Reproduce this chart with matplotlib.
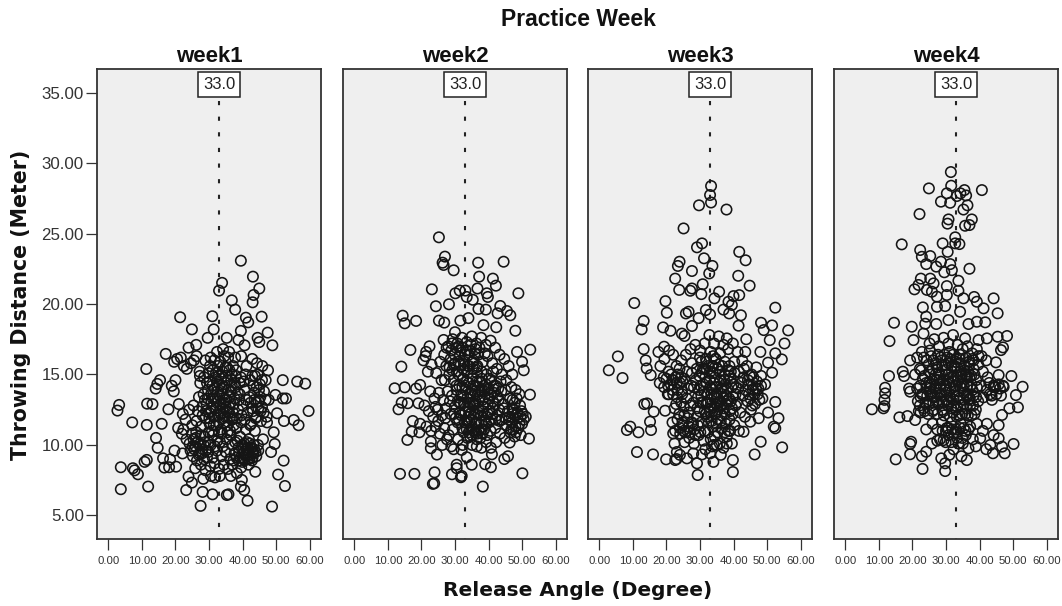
import matplotlib
matplotlib.use('Agg')
import matplotlib.pyplot as plt

plt.rcParams['font.family'] = ['Liberation Sans', 'DejaVu Sans']

# (angle, distance)
week1 = [
    (39.5,23.07),(43.1,21.94),(33.9,21.5),(33.0,20.95),(45.0,21.1),(43.3,20.64),(43.0,20.12),(36.8,20.26),(37.8,19.6),
    (21.4,19.06),(31.0,19.13),(45.7,19.1),(41.0,19.03),(41.7,18.7),(24.9,18.2),(31.4,18.2),(39.5,18.09),(47.5,17.97),
    (29.6,17.6),(44.5,17.6),(45.0,17.3),(48.9,17.07),(23.9,16.9),(26.2,17.1),(35.3,17.6),(38.8,17.45),(40.6,17.07),
    (17.1,16.46),(11.3,15.39),(52.0,14.6),(56.3,14.5),(58.7,14.35),(15.4,14.6),(14.6,14.33),(14.1,14.0),(3.2,12.84),
    (2.7,12.44),(11.55,12.93),(13.15,12.9),(17.9,12.53),(59.7,12.41),(7.1,11.6),(11.45,11.42),(15.9,11.5),(52.35,11.7),
    (55.3,11.77),(56.7,11.4),(50.3,12.25),(52.95,13.3),(52.0,13.3),(49.8,13.55),(49.3,10.9),(49.6,10.07),(14.2,10.5),
    (14.7,9.8),(19.7,9.6),(48.5,9.5),(52.25,8.89),(16.3,9.05),(18.4,8.98),(11.45,8.94),(10.8,8.8),(3.7,8.42),(7.3,8.35),
    (8.8,7.92),(7.8,8.2),(16.7,8.4),(20.2,8.46),(18.1,8.42),(50.6,7.9),(52.65,7.09),(3.7,6.86),(11.85,7.05),(23.2,6.8),
    (28.1,6.67),(31.05,6.5),(35.3,6.45),(35.8,6.5),(41.5,6.05),(27.5,5.68),(48.8,5.63),(39.5,7.05),(40.5,6.8),(39.8,7.52),
    (23.9,7.75),(24.9,7.33),(25.9,8.35),(43.8,8.1),(38.3,8.0),(19.6,15.9),(20.5,16.1),(21.6,16.2),(22.5,15.6),(23.4,15.4),
    (24.6,15.8),(25.5,16.0),(26.3,16.3),(27.2,15.2),(18.9,14.2),(20.0,14.6),(19.5,13.8),(21.0,12.9),(22.2,12.2),(23.0,11.8),
    (24.1,12.5),(20.8,11.2),(21.9,10.8),(22.4,11.1),(23.3,10.4),(24.5,9.6),(22.1,9.4),(25.2,9.2),(26.4,8.9),(27.6,8.6),
    (29.0,8.2),(30.6,7.8),(31.8,7.7),(33.2,7.8),(28.3,7.6),(36.5,7.8),(41.8,8.6),(43.2,9.4),(44.6,10.0),(46.1,10.4),(47.2,12.0),
    (47.8,13.2),(46.9,14.6),(47.6,15.3),(45.9,15.6),(44.3,15.8),(42.9,16.1),(41.2,15.6),(39.6,16.3),(37.8,16.2),(36.0,16.6),
    (34.2,16.8),(32.4,16.6),(30.5,16.2),(28.9,16.0),(27.4,14.4),(28.5,14.8),(29.8,15.1),(31.1,15.3),(32.6,15.6),(34.0,15.2),
    (35.4,15.5),(36.8,15.0),(38.1,15.3),(39.5,14.8),(40.9,15.0),(42.3,14.6),(43.7,14.9),(45.2,14.3),(46.4,13.8),(27.0,13.4),
    (28.4,13.6),(29.7,13.9),(31.0,14.2),(32.4,14.5),(33.8,14.0),(35.1,14.4),(36.5,13.8),(37.9,14.1),(39.2,13.6),(40.6,13.9),
    (42.0,13.4),(43.4,13.7),(44.8,13.1),(45.8,12.7),(25.4,12.8),(26.7,12.4),(28.0,12.7),(29.3,12.9),(30.7,13.1),(32.0,13.3),
    (33.4,12.9),(34.7,13.2),(36.0,12.7),(37.4,12.9),(38.7,12.5),(40.1,12.8),(41.5,12.3),(42.8,12.6),(44.2,12.0),(45.5,11.7),
    (25.0,11.4),(26.3,11.7),(27.6,11.3),(28.9,11.9),(30.2,11.5),(31.5,12.0),(32.9,11.6),(34.2,11.9),(35.6,11.4),(36.9,11.8),
    (38.2,11.2),(39.6,11.6),(41.0,11.1),(42.3,11.4),(43.7,11.0),(26.0,10.5),(27.3,10.1),(28.6,10.6),(29.9,10.2),(31.2,10.7),
    (32.5,10.3),(33.8,10.8),(35.2,10.4),(36.5,10.7),(37.8,10.2),(39.2,10.6),(40.5,10.1),(41.9,10.4),(43.3,10.0),(27.2,9.4),
    (28.5,9.0),(29.8,9.5),(31.1,9.1),(32.4,9.6),(33.7,9.2),(35.0,9.5),(36.3,9.0),(37.6,9.4),(38.9,8.9),(40.2,9.4),(41.6,9.0),
    (42.9,9.5),(30.4,8.5),(31.7,8.7),(33.0,8.3),(34.4,8.6),(35.7,8.3),(37.0,8.6),(39.6,8.4),(33.2,12.4),(36.1,13.4),(30.0,12.3),
]
week1_core = [
    (27.3,14.9),(28.1,12.1),(28.8,13.2),(29.4,14.4),(30.1,11.9),(30.6,13.6),(31.3,12.7),(31.9,14.8),(32.2,11.4),(32.8,13.1),
    (33.1,14.3),(33.5,12.2),(34.1,13.6),(34.5,11.6),(34.9,14.9),(35.3,12.4),(35.8,13.9),(36.2,11.9),(36.7,14.6),(37.1,12.3),
    (37.6,13.3),(38.0,14.9),(30.3,15.6),(31.6,16.0),(33.4,15.9),(35.7,16.2),(37.2,15.6),(34.6,16.3),(36.1,15.3),(32.9,14.9),
    (24.2,10.1),(24.9,10.8),(25.6,9.7),(26.2,10.9),(26.9,9.3),(27.5,10.7),(28.1,9.7),(28.8,10.2),(29.4,9.1),(29.9,10.9),(25.1,9.9),
    (26.6,10.2),(38.2,9.1),(38.8,9.8),(39.4,9.1),(40.0,10.0),(40.6,8.9),(41.1,9.7),(41.7,9.3),(42.2,10.1),(42.8,8.9),(43.4,9.7),
    (44.1,9.2),(44.7,9.6),(38.5,10.3),(39.9,8.8),(41.3,10.2),(42.5,11.5),(43.1,12.4),(43.6,13.2),(44.2,14.1),(44.7,12.6),(45.3,13.4),
    (45.8,14.6),(46.3,12.3),(46.9,13.2),(47.3,11.6),(42.4,13.0),(42.9,14.9),(43.9,11.9),(44.5,15.0),(41.1,13.2),(40.3,14.5),(39.7,12.1),
    (38.9,13.2),(39.1,14.4),(40.7,11.8),(37.4,11.4),(35.5,10.9),(33.3,10.2),(31.8,9.9),(30.5,10.0),(34.1,9.9),(36.9,10.0),(37.3,8.9),
]
week1_dense = [
    (32.6,12.1),(33.1,13.5),(33.6,14.7),(34.0,12.6),(34.4,14.1),(34.8,12.0),(35.2,13.2),(35.6,14.6),(36.0,12.3),(36.4,13.0),
    (36.8,14.2),(37.2,11.9),(29.1,12.4),(29.6,13.3),(30.1,14.5),(30.6,12.4),(31.1,13.3),(31.6,14.0),(32.1,12.6),(32.5,13.8),
    (38.3,11.9),(38.6,13.7),(27.9,9.4),(28.4,10.0),(29.0,9.6),(26.0,9.9),(25.4,10.4),(39.0,9.5),(39.7,9.8),(40.4,9.0),(41.0,9.3),
    (41.5,9.8),(42.1,9.0),(42.6,9.8),(43.0,9.1),(43.9,9.5),(44.9,13.9),(45.4,12.4),(44.1,13.0),(43.3,14.2),(34.9,15.5),(31.4,11.4),
    (33.0,10.9),(36.3,11.0),(37.7,14.4),(32.1,15.1),(33.6,11.1),(30.9,11.0),(35.0,12.7),(34.3,13.0),
]

week2 = [
    (25.2,24.73),(27.0,23.36),(26.3,22.93),(26.6,22.77),(29.6,22.39),(36.9,22.93),(44.5,23.0),(37.2,21.94),(41.3,21.8),
    (42.2,21.3),(36.7,21.1),(23.1,21.04),(48.9,20.76),(30.1,20.76),(31.4,20.95),(33.1,20.95),(39.5,20.76),(39.8,20.5),
    (33.5,20.5),(35.3,20.3),(28.2,19.98),(24.3,19.84),(37.0,19.65),(39.2,19.6),(43.5,19.86),(45.5,19.5),(46.5,19.2),
    (42.7,19.34),(14.4,19.17),(15.0,18.63),(18.4,18.8),(25.2,18.82),(26.8,18.68),(31.6,18.82),(34.0,19.0),(48.0,18.1),
    (42.3,18.35),(38.5,18.5),(52.45,16.76),(16.7,16.74),(22.4,17.0),(21.4,16.6),(20.6,16.0),(26.6,17.45),(30.0,18.0),
    (14.0,15.56),(48.5,16.6),(50.0,15.9),(50.5,15.3),(12.0,14.02),(15.0,14.09),(19.6,14.26),(18.4,14.0),(52.35,13.57),
    (13.15,12.53),(14.1,13.0),(15.9,12.96),(19.1,12.96),(17.4,11.7),(19.6,11.5),(17.1,10.95),(19.4,10.9),(15.8,10.36),
    (52.05,10.45),(46.3,10.17),(22.8,10.24),(22.8,9.77),(24.6,9.32),(41.0,9.34),(45.8,9.2),(44.7,9.0),(13.6,7.95),
    (17.9,7.95),(23.9,8.06),(23.8,7.28),(23.4,7.24),(29.1,7.92),(30.5,8.35),(30.5,8.6),(31.75,7.71),(32.0,7.8),(38.3,7.05),
    (50.1,7.99),(39.0,8.63),(40.7,8.42),(35.0,8.6),(33.5,9.13),(29.6,9.7),(32.0,9.65),(36.5,9.9),(42.3,10.2),(21.2,16.3),
    (21.9,15.2),(23.0,15.7),(24.4,15.1),(25.6,15.9),(26.8,16.4),(28.0,17.0),(29.3,17.5),(30.7,17.2),(32.1,17.6),(33.5,17.3),
    (35.0,17.7),(36.4,17.2),(37.8,17.6),(39.2,17.1),(40.6,17.4),(42.0,16.9),(43.3,16.4),(44.7,16.1),(46.0,15.6),(47.1,15.0),
    (27.4,15.6),(28.7,16.1),(30.0,15.8),(31.3,16.3),(32.7,15.9),(34.1,16.4),(35.5,16.0),(36.9,16.4),(38.3,15.9),(39.7,16.3),
    (41.1,15.8),(42.5,15.4),(43.9,15.0),(45.3,14.6),(46.8,14.1),(48.1,13.9),(49.2,13.6),(27.0,14.6),(28.3,15.0),(29.6,14.6),
    (31.0,15.0),(32.4,14.7),(33.8,15.1),(35.2,14.7),(36.6,15.1),(38.0,14.7),(39.4,15.0),(40.8,14.6),(42.2,14.2),(43.6,14.5),
    (45.0,13.9),(46.4,13.3),(47.8,13.0),(49.4,12.8),(50.2,12.2),(22.6,13.8),(23.9,13.3),(25.2,13.7),(26.5,13.2),(27.8,13.8),
    (29.1,13.5),(30.5,13.9),(31.8,13.5),(33.2,13.9),(34.6,13.4),(36.0,13.8),(37.4,13.4),(38.8,13.8),(40.2,13.3),(41.6,13.7),
    (43.0,13.2),(44.4,12.9),(45.8,12.4),(47.2,12.2),(48.6,11.9),(50.0,11.5),(51.1,12.0),(20.9,12.8),(22.2,12.4),(23.5,12.0),
    (24.8,12.5),(26.1,12.1),(27.4,12.6),(28.7,12.2),(30.0,12.7),(31.4,12.3),(32.8,12.8),(34.2,12.4),(35.6,12.8),(37.0,12.3),
    (38.4,12.7),(39.8,12.2),(41.2,12.6),(42.6,12.1),(44.0,11.8),(45.4,11.4),(46.8,11.1),(48.2,10.9),(49.6,10.7),(21.5,11.3),
    (22.9,11.0),(24.2,11.3),(25.5,10.8),(26.8,11.2),(28.1,10.7),(29.4,11.1),(30.8,11.6),(32.2,11.2),(33.6,11.7),(35.0,11.2),
    (36.4,11.6),(37.8,11.1),(39.2,11.5),(40.6,11.0),(42.0,11.2),(43.4,10.8),(44.8,10.5),(26.2,10.0),(27.6,10.4),(28.9,9.9),
    (30.9,10.4),(32.3,10.0),(33.7,10.5),(35.1,10.0),(36.5,10.4),(37.9,9.8),(39.3,10.2),(40.7,9.8),(33.0,14.2),(35.8,12.2),
    (37.1,13.1),(34.4,13.0),(31.6,13.0),(38.6,14.2),(36.2,14.2),(33.9,12.0),
]
week2_core = [
    (30.2,11.9),(30.8,13.1),(31.3,14.2),(31.9,12.1),(32.4,13.5),(32.9,11.6),(33.5,14.5),(33.9,12.7),(34.5,13.7),(34.9,11.8),
    (35.4,14.2),(35.9,12.9),(36.4,11.5),(36.8,13.6),(37.3,14.5),(37.8,12.1),(38.2,13.2),(38.7,11.7),(39.2,14.3),(39.7,12.9),
    (40.1,11.6),(40.6,13.5),(41.1,12.2),(41.6,14.2),(42.1,11.8),(42.6,13.4),(27.5,16.9),(28.4,15.5),(29.1,17.2),(29.9,16.4),
    (30.5,15.2),(31.1,17.0),(31.7,15.7),(32.3,16.9),(32.9,15.3),(33.5,16.7),(34.2,15.6),(34.8,17.1),(35.4,15.4),(36.1,16.8),
    (36.7,15.6),(37.3,16.9),(37.9,15.2),(46.2,12.0),(46.9,11.6),(47.5,12.5),(48.0,11.3),(48.6,12.3),(49.2,11.5),(49.8,12.4),
    (50.5,11.8),(47.2,13.2),(48.4,13.3),(46.5,10.9),(47.8,10.6),(32.6,10.9),(33.5,11.1),(34.5,10.6),(35.5,11.0),(36.6,10.8),
    (37.6,10.5),(38.7,11.1),(39.6,10.7),(43.8,13.8),(44.6,12.6),(45.1,11.9),(43.2,12.5),(41.4,15.2),(40.2,14.7),(26.0,14.6),
    (28.5,13.1),(29.7,12.2),(27.1,11.9),(25.0,11.7),(24.2,12.7),(29.2,15.3),(30.4,14.2),(38.9,16.5),(35.3,13.0),(37.9,13.9),
]
week2_dense = [
    (33.1,12.3),(33.6,13.3),(34.1,14.4),(34.6,12.2),(35.1,13.9),(35.5,12.0),(36.0,13.1),(36.5,14.5),(36.9,12.6),(37.4,13.9),
    (37.9,11.6),(38.3,12.4),(38.8,13.4),(39.3,12.0),(39.8,13.9),(40.3,12.4),(40.8,11.8),(41.3,13.1),(31.2,11.8),(31.7,12.9),
    (32.2,14.1),(32.7,13.0),(28.9,16.7),(29.6,15.7),(30.3,16.9),(31.0,15.9),(31.6,16.7),(32.4,15.4),(33.1,16.4),(33.8,15.6),
    (34.5,16.7),(35.2,15.9),(35.9,16.5),(36.5,15.5),(47.1,12.6),(48.0,12.1),(48.9,11.2),(49.5,12.0),(47.4,11.1),(46.1,11.8),
    (34.1,10.9),(35.1,10.7),(36.0,10.9),(37.1,11.0),(38.1,10.8),(43.3,11.7),(42.9,14.0),(34.3,11.6),(40.0,14.0),(41.9,12.9),
]

week3 = [
    (33.3,28.37),(33.0,27.73),(33.3,27.2),(29.7,27.0),(37.9,26.7),(25.1,25.36),(30.6,24.3),(29.1,24.02),(41.7,23.7),
    (43.6,23.1),(31.2,23.24),(23.9,23.0),(23.4,22.7),(33.7,22.7),(27.6,22.34),(32.75,22.17),(22.6,21.8),(41.4,22.0),
    (44.8,21.3),(30.8,21.4),(23.8,21.0),(27.6,21.1),(27.1,20.94),(30.4,20.7),(35.7,20.87),(34.3,20.4),(41.7,20.63),
    (40.0,20.56),(38.5,20.16),(39.5,19.93),(37.0,19.6),(38.7,19.33),(19.7,20.2),(10.4,20.07),(20.1,19.38),(52.45,19.74),
    (25.8,19.33),(26.6,19.45),(31.75,19.57),(33.0,19.26),(29.6,19.0),(42.2,19.2),(13.2,18.8),(12.6,18.2),(19.0,18.34),
    (21.2,18.1),(27.6,18.44),(41.5,18.46),(48.2,18.67),(51.5,18.48),(49.0,18.15),(56.3,18.13),(55.2,17.2),(50.8,17.44),
    (54.4,16.07),(52.45,16.5),(48.0,16.6),(50.3,15.84),(51.5,15.13),(43.5,16.6),(43.8,17.5),(38.0,17.56),(25.4,17.73),
    (24.6,17.9),(13.2,16.8),(5.5,16.28),(2.8,15.3),(6.9,14.75),(13.8,16.0),(14.1,15.43),(15.3,14.96),(17.6,16.6),(19.3,16.97),
    (52.45,13.05),(50.3,12.3),(53.4,11.9),(52.0,11.3),(52.45,11.18),(14.2,12.95),(13.4,12.9),(16.2,12.36),(19.6,12.43),
    (15.1,11.65),(15.4,11.06),(9.2,11.3),(8.2,11.06),(11.65,10.9),(48.1,10.23),(46.3,9.33),(54.5,9.83),(11.2,9.5),(16.0,9.33),
    (19.9,8.98),(22.6,8.93),(26.1,9.05),(29.1,8.7),(29.3,7.87),(34.0,8.8),(39.8,8.93),(39.8,8.08),(36.2,9.3),(30.6,9.33),
    (22.0,10.82),(22.4,10.1),(23.1,9.5),(39.5,10.1),(43.0,10.94),(47.5,11.9),(45.0,11.65),(45.2,12.5),(23.0,9.0),(24.0,9.3),
    (18.2,15.6),(19.4,16.1),(20.8,16.7),(22.0,16.4),(23.0,15.6),(24.4,16.0),(25.8,16.4),(27.2,16.8),(28.6,17.1),(30.0,16.7),
    (31.4,17.2),(32.8,17.8),(34.2,17.2),(35.6,17.7),(37.0,17.1),(38.4,16.8),(39.8,17.2),(41.2,16.6),(42.6,16.0),(44.0,15.6),
    (45.4,15.0),(46.8,15.5),(48.2,14.9),(49.4,14.3),(18.0,14.4),(19.2,14.8),(20.6,15.2),(22.0,14.6),(23.4,15.0),(24.8,14.5),
    (26.2,15.2),(27.6,15.8),(29.0,15.4),(30.4,15.9),(31.8,16.1),(33.2,16.6),(34.6,16.1),(36.0,16.5),(37.4,15.9),(38.8,15.6),
    (40.2,15.9),(41.6,15.2),(43.0,14.8),(44.4,14.3),(45.8,13.9),(47.2,13.6),(48.6,13.3),(20.4,13.6),(21.8,13.9),(23.2,13.4),
    (24.6,13.8),(26.0,13.3),(27.4,14.2),(28.8,14.6),(30.2,14.2),(31.6,14.8),(33.0,15.2),(34.4,14.8),(35.8,15.2),(37.2,14.6),
    (38.6,14.9),(40.0,14.3),(41.4,14.0),(42.8,13.5),(44.2,13.1),(45.6,12.8),(22.4,12.6),(23.8,12.2),(25.2,12.7),(26.6,12.3),
    (28.0,13.0),(29.4,13.4),(30.8,13.0),(32.2,13.6),(33.6,14.0),(35.0,13.6),(36.4,14.0),(37.8,13.5),(39.2,13.1),(40.6,12.8),
    (42.0,12.3),(43.4,12.0),(24.8,11.4),(26.2,11.0),(27.6,11.6),(29.0,12.0),(30.4,11.6),(31.8,12.2),(33.2,12.6),(34.6,12.2),
    (36.0,12.7),(37.4,12.2),(38.8,11.8),(40.2,11.4),(41.6,11.0),(25.4,10.2),(26.8,10.5),(28.2,10.1),(29.6,10.7),(31.0,10.3),
    (32.4,10.9),(33.8,11.3),(35.2,10.9),(36.6,11.2),(38.0,10.6),(39.0,11.0),(28.0,9.4),(31.6,9.7),(33.0,9.4),(35.0,10.0),(37.0,9.8),
    (33.2,13.2),(32.0,14.4),(34.8,12.9),(33.6,15.6),(31.2,13.8),(36.4,12.9),(35.4,11.8),(32.6,11.6),
]
week3_core = [
    (29.2,12.6),(29.8,14.9),(30.4,13.5),(30.9,15.4),(31.4,12.4),(31.9,15.9),(32.4,13.0),(32.9,14.6),(33.4,12.1),(33.8,15.1),
    (34.3,13.4),(34.7,16.1),(35.2,12.4),(35.7,14.4),(36.1,13.1),(36.6,15.6),(37.0,12.6),(37.5,14.3),(38.0,13.1),(38.4,15.3),
    (38.9,12.4),(39.4,14.1),(39.9,13.4),(40.3,15.1),(30.0,16.2),(32.1,12.0),(33.9,16.3),(35.6,15.7),(36.9,13.8),(34.1,14.4),
    (19.3,14.1),(20.0,14.7),(20.7,13.6),(21.3,14.3),(22.0,13.6),(22.7,14.8),(23.3,13.9),(24.0,14.4),(24.7,13.6),(25.3,14.7),
    (21.4,15.0),(23.9,15.4),(43.6,13.9),(44.3,14.6),(45.0,13.3),(45.7,14.2),(46.3,13.6),(47.0,14.5),(47.7,13.2),(48.2,14.2),
    (44.8,14.9),(46.4,12.9),(21.8,11.6),(22.6,11.0),(23.3,11.8),(24.1,10.8),(24.8,11.6),(25.6,10.9),(26.3,11.9),(27.1,10.9),
    (27.9,11.5),(28.6,10.7),(29.3,11.4),(30.1,10.9),(34.4,10.6),(35.9,10.1),(37.4,10.9),(33.2,10.4),(39.8,12.2),(41.0,13.0),
    (42.3,14.4),(40.7,14.1),(27.1,12.8),(28.2,14.1),(26.4,14.0),(27.6,15.1),(22.9,12.9),(25.3,12.1),(24.4,13.0),(43.1,15.4),
]
week3_dense = [
    (32.9,12.4),(33.4,13.6),(33.9,15.6),(34.3,12.7),(34.8,14.1),(35.2,15.4),(35.6,13.0),(36.1,14.6),(36.5,12.1),(37.0,13.4),
    (37.4,15.0),(37.8,12.9),(38.2,14.0),(38.7,13.3),(39.1,14.7),(39.6,12.6),(31.0,14.3),(31.5,15.4),(32.0,13.0),(32.5,15.6),
    (30.2,13.0),(29.7,13.9),(33.1,14.1),(35.3,13.3),(36.8,14.1),(33.5,11.7),(34.9,11.5),(36.2,11.7),(37.7,11.5),(38.5,11.0),
    (34.1,10.0),(33.6,9.9),(20.5,14.2),(21.8,14.6),(23.1,14.4),(24.4,14.8),(44.6,13.6),(45.9,14.8),(46.7,14.0),(47.4,14.0),
    (24.0,11.2),(25.1,11.0),(26.7,11.3),(28.3,11.1),(29.9,12.4),(38.0,10.1),(31.4,11.0),(30.6,15.1),(39.2,15.2),(40.6,13.6),
]

week4 = [
    (31.45,29.36),(24.9,28.2),(40.7,28.08),(31.55,28.39),(30.25,27.85),(35.5,28.08),(36.0,27.7),(33.25,27.66),(34.3,27.85),
    (28.5,27.26),(31.25,27.18),(36.4,27.0),(35.2,26.7),(22.1,26.38),(37.7,26.0),(30.75,26.0),(30.45,25.7),(35.7,25.55),
    (37.0,25.6),(16.8,24.23),(32.75,24.73),(32.75,24.3),(34.0,24.25),(29.0,24.3),(30.5,23.7),(22.3,23.83),(22.8,23.35),
    (25.3,23.4),(24.1,22.83),(28.5,23.0),(27.1,22.65),(31.25,22.83),(31.75,22.4),(29.5,22.25),(37.0,22.5),(22.5,21.8),
    (25.3,21.8),(21.8,21.35),(20.6,21.04),(33.7,21.65),(26.3,21.46),(24.3,21.0),(25.8,20.87),(30.25,21.27),(33.7,20.94),
    (27.3,20.52),(30.25,20.64),(35.2,20.4),(38.4,20.5),(44.2,20.4),(23.1,19.76),(27.3,19.8),(29.75,19.85),(39.2,20.16),
    (41.2,19.69),(45.4,19.34),(34.2,19.45),(24.1,19.1),(14.5,18.67),(13.15,17.37),(19.8,18.39),(23.8,18.6),(27.1,18.58),
    (30.75,18.86),(36.7,18.58),(39.2,18.74),(41.7,18.7),(48.2,17.73),(45.4,17.68),(47.0,16.92),(46.4,16.73),(44.9,15.86),
    (20.3,17.44),(23.3,17.9),(35.7,17.56),(39.7,17.44),(42.2,17.56),(17.1,15.2),(17.5,14.89),(13.0,14.89),(11.85,14.06),
    (19.3,16.0),(45.7,14.96),(49.5,14.89),(52.85,14.13),(50.85,13.54),(11.85,13.66),(11.65,13.2),(11.65,12.76),(11.35,12.6),
    (7.9,12.53),(51.45,12.67),(48.9,12.6),(46.7,12.13),(41.2,13.38),(43.7,13.2),(44.2,14.1),(47.2,14.13),(19.3,13.78),(19.0,14.0),
    (16.1,11.96),(18.5,12.05),(20.8,11.77),(24.1,11.1),(45.7,11.4),(42.2,11.5),(39.2,11.5),(44.2,10.7),(19.6,10.23),(19.3,10.07),
    (19.3,9.34),(22.8,9.2),(24.1,9.52),(15.0,8.98),(23.0,8.3),(29.75,8.15),(29.75,8.7),(28.6,9.05),(36.2,8.93),(50.15,10.07),
    (47.5,9.41),(44.0,9.41),(45.7,10.47),(46.7,9.88),(32.25,9.69),(36.7,9.76),(25.8,10.1),(40.2,10.47),(29.3,10.35),(33.7,10.1),
    (25.1,17.2),(26.5,17.5),(27.9,17.0),(29.3,17.6),(30.7,17.2),(32.1,17.8),(33.5,17.1),(35.0,16.8),(36.4,17.0),(37.8,16.5),(39.2,16.8),
    (40.6,16.3),(42.0,16.0),(21.4,16.2),(22.8,16.6),(24.2,16.0),(25.6,16.3),(27.0,15.8),(28.4,16.2),(29.8,15.7),(31.2,16.1),(32.6,15.6),
    (34.0,16.1),(35.4,15.6),(36.8,15.9),(38.2,15.4),(39.6,15.7),(41.0,15.2),(42.4,14.8),(20.8,15.0),(22.2,15.4),(23.6,14.9),(25.0,15.2),
    (26.4,14.7),(27.8,15.1),(29.2,14.6),(30.6,15.0),(32.0,14.5),(33.4,14.9),(34.8,14.4),(36.2,14.8),(37.6,14.3),(39.0,14.6),(40.4,14.2),
    (21.4,14.0),(22.8,13.6),(24.2,14.1),(25.6,13.6),(27.0,14.0),(28.4,13.5),(29.8,13.9),(31.2,13.4),(32.6,13.8),(34.0,13.3),(35.4,13.7),
    (36.8,13.2),(38.2,13.5),(39.6,13.1),(22.2,12.8),(23.6,12.4),(25.0,12.9),(26.4,12.5),(27.8,12.9),(29.2,12.4),(30.6,12.8),(32.0,12.3),
    (33.4,12.7),(34.8,12.2),(36.2,12.6),(37.6,12.1),(38.9,12.5),(26.0,11.5),(27.4,11.1),(28.8,11.6),(30.2,11.2),(31.6,11.6),(33.0,11.1),
    (34.4,11.5),(35.8,11.0),(37.2,11.3),(41.0,11.0),(43.2,10.0),(27.4,10.3),(30.8,10.7),(34.8,10.5),(38.0,10.4),(38.9,9.9),(42.0,9.7),
    (31.0,9.3),(34.6,9.2),(28.2,15.0),(31.8,15.2),(33.0,14.2),(30.0,13.2),(35.9,15.0),(26.2,13.0),(33.2,12.0),(37.0,14.8),
]
week4_core = [
    (22.6,15.3),(23.4,16.2),(24.1,14.4),(24.8,15.7),(25.6,14.3),(26.2,16.0),(26.9,15.0),(27.6,16.4),(28.3,14.3),(28.9,15.6),
    (29.6,16.4),(30.1,14.2),(30.8,15.8),(31.4,14.8),(32.1,16.4),(32.7,14.2),(33.4,15.5),(34.1,16.4),(34.7,15.0),(35.3,14.2),
    (36.0,16.2),(36.6,15.2),(37.2,14.1),(37.9,16.1),(38.5,15.0),(39.2,14.1),(39.7,16.3),(27.3,14.6),(30.0,15.0),(33.0,16.1),
    (21.6,13.1),(22.4,12.3),(23.1,13.6),(23.9,13.0),(24.6,12.2),(25.3,13.8),(26.0,12.4),(26.7,13.4),(27.4,12.2),(28.1,13.7),
    (28.8,13.1),(29.4,12.1),(30.2,13.7),(30.9,13.1),(31.6,12.6),(32.3,13.2),(33.0,12.5),(33.7,13.8),(34.4,12.8),(35.1,13.2),
    (35.8,12.2),(36.5,13.5),(37.2,12.8),(37.9,13.9),(38.5,12.2),(39.0,13.4),(42.2,13.9),(42.9,14.4),(43.6,13.5),(44.3,14.2),
    (45.0,13.6),(45.7,14.3),(46.4,13.5),(47.0,14.2),(28.2,10.4),(29.0,11.0),(29.9,10.2),(30.7,11.2),(31.6,10.2),(32.4,10.8),
    (33.3,10.5),(34.2,11.2),(35.0,10.1),(35.9,10.7),(36.7,11.1),(23.1,14.7),(22.3,14.2),(25.2,16.7),(31.0,16.6),(34.4,15.8),
]
week4_dense = [
    (26.1,15.4),(26.8,14.2),(27.4,15.5),(28.0,14.6),(28.7,16.0),(29.3,14.2),(29.9,15.3),(30.4,16.2),(31.0,14.4),(31.7,15.6),
    (32.3,14.9),(32.9,15.9),(33.5,14.6),(34.2,15.2),(34.9,14.0),(35.6,15.3),(36.3,14.2),(36.9,15.7),(37.5,14.9),(38.2,16.0),
    (25.2,14.0),(26.2,13.4),(27.2,13.1),(28.3,14.0),(29.3,13.0),(30.3,13.2),(31.3,14.0),(32.3,12.8),(33.3,13.4),(34.3,14.1),
    (35.3,12.9),(36.2,13.6),(37.1,13.3),(38.1,12.8),(23.4,12.6),(24.4,13.5),(22.4,13.4),(21.9,12.4),(24.9,14.4),(28.9,12.5),
    (31.2,12.0),(34.0,12.1),(36.5,12.1),(43.1,13.6),(44.7,14.1),(46.1,14.0),(30.0,11.0),(33.2,10.9),(35.3,11.2),(31.9,11.1),
]

panels = [week1 + week1_core + week1_dense, week2 + week2_core + week2_dense,
          week3 + week3_core + week3_dense, week4 + week4_core + week4_dense]
week_names = ['week1', 'week2', 'week3', 'week4']
median_angle = 33.0
x_ticks = [0, 10, 20, 30, 40, 50, 60]
y_ticks = [5, 10, 15, 20, 25, 30, 35]
left_edges = [97, 343, 588, 834]

W, H = 1062, 606
fig = plt.figure(figsize=(W / 100, H / 100), dpi=100)

for i, points in enumerate(panels):
    ax = fig.add_axes([left_edges[i] / W, 1 - 539 / H, 224 / W, 470 / H])
    ax.set_facecolor('#EFEFEF')
    ax.set_xlim(-3.4, 63.4)
    ax.set_ylim(3.33, 36.67)
    # 中位线
    ax.plot([median_angle, median_angle], [34.4, 3.33], color='#222222', lw=1.5,
            linestyle=(0, (2, 5.5)), dash_capstyle='butt', zorder=1)
    xs = [p[0] for p in points]
    ys = [p[1] for p in points]
    ax.scatter(xs, ys, s=56, facecolors='none', edgecolors='#151515', linewidths=1.15, zorder=2)
    ax.text(median_angle, 35.6, '33.0', ha='center', va='center', fontsize=12, color='#222222', zorder=3,
            bbox=dict(boxstyle='square,pad=0.3', facecolor='white', edgecolor='#222222', linewidth=1.1))
    ax.set_title(week_names[i], fontsize=16, fontweight='bold', pad=5, color='#111111')
    for s in ax.spines.values():
        s.set_linewidth(1.3)
        s.set_color('#333333')
    ax.set_xticks(x_ticks)
    ax.set_xticklabels(['%.2f' % v for v in x_ticks], fontsize=8.2, color='#333333')
    ax.tick_params(axis='x', length=8, width=0.9, color='#333333', pad=4)
    if i == 0:
        ax.set_yticks(y_ticks)
        ax.set_yticklabels(['%.2f' % v for v in y_ticks], fontsize=12.2, color='#333333')
        ax.tick_params(axis='y', length=8, width=0.9, color='#333333', pad=1.5)
    else:
        ax.set_yticks([])

fig.text(578 / W, 1 - 20 / H, 'Practice Week', ha='center', va='center', fontsize=16.5, fontweight='bold', color='#111111')
fig.text(578 / W, 1 - 591 / H, 'Release Angle (Degree)', ha='center', va='center', fontsize=14.5, fontweight='bold',
         family='DejaVu Sans', color='#111111')
fig.text(21 / W, 1 - 305 / H, 'Throwing Distance (Meter)', ha='center', va='center', rotation=90, fontsize=14.8,
         fontweight='bold', family='DejaVu Sans', color='#111111')

fig.savefig('out.png', dpi=100)
